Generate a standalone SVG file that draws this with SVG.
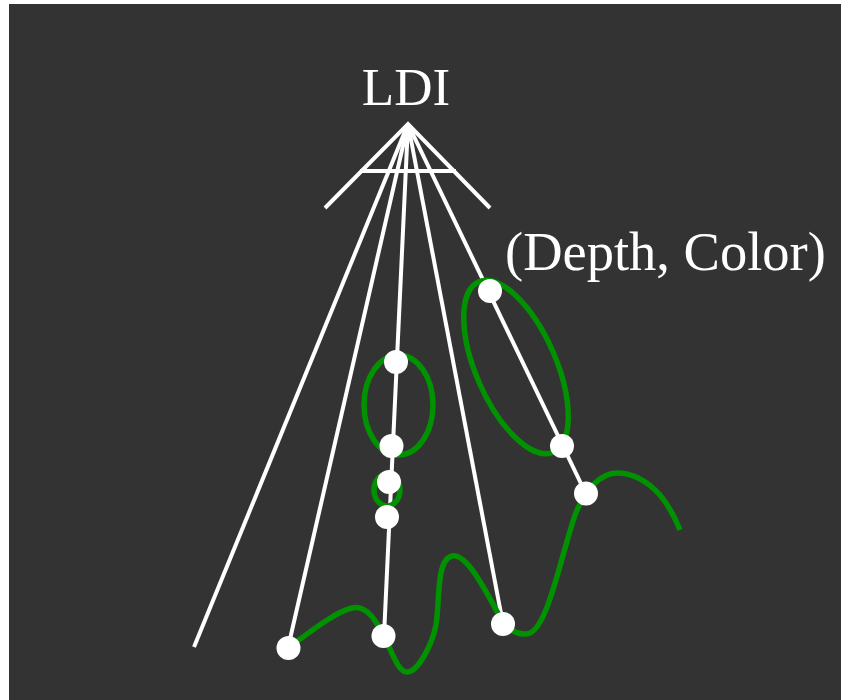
<svg xmlns="http://www.w3.org/2000/svg" width="841" height="700" viewBox="0 0 841 700">
<style>
.ray{stroke:#ffffff;stroke-width:4;fill:none;stroke-linecap:butt}
.green{stroke:#009200;stroke-width:5.5;fill:none}
.dot{fill:#ffffff}
.lbl{fill:#ffffff;font-family:"Liberation Serif","Times New Roman",serif;font-size:53px}
</style>
<rect x="0" y="0" width="841" height="700" fill="#ffffff"/>
<rect x="9" y="4" width="832" height="696" fill="#333333"/>
<g id="camera">
<path class="ray" d="M325,208 L408,124 L490,208"/>
<line class="ray" x1="360" y1="171" x2="456" y2="171"/>
</g>
<g id="connectors">
<line class="ray" x1="408" y1="124" x2="194" y2="647"/>
<line class="ray" x1="408" y1="124" x2="288" y2="648"/>
<line class="ray" x1="408" y1="124" x2="384" y2="636"/>
<line class="ray" x1="408" y1="124" x2="503" y2="624"/>
<line class="ray" x1="408" y1="124" x2="586" y2="494"/>
</g>
<g id="surfaces">
<ellipse class="green" cx="398.5" cy="405" rx="34.5" ry="50"/>
<ellipse class="green" cx="387" cy="490" rx="13" ry="16"/>
<ellipse class="green" cx="0" cy="0" rx="40" ry="93" transform="translate(516,367) rotate(-23.6)"/>
<path class="green" d="M288,648 C310,632 335,612 352,608 C368,604 378,625 384,636 C392,652 398,672 407,672 C418,672 432,645 436,625 C440,600 436,560 452,556 C468,552 490,600 503,622 C510,632 522,636 530,633 C548,625 560,560 575,515 C585,490 600,473 617,473 C635,473 650,484 660,495 C670,507 676,520 680,530"/>
</g>
<g id="samples">
<circle class="dot" cx="396" cy="362" r="12"/>
<circle class="dot" cx="391.5" cy="446" r="12"/>
<circle class="dot" cx="389" cy="482" r="12"/>
<circle class="dot" cx="387" cy="517" r="12"/>
<circle class="dot" cx="288.5" cy="648" r="12"/>
<circle class="dot" cx="383.5" cy="636" r="12"/>
<circle class="dot" cx="503" cy="624" r="12"/>
<circle class="dot" cx="586" cy="493.5" r="12"/>
<circle class="dot" cx="562" cy="446" r="12"/>
<circle class="dot" cx="490" cy="291" r="12"/>
</g>
<g id="labels">
<text class="lbl" x="406" y="105" text-anchor="middle">LDI</text>
<text class="lbl" x="505" y="270" style="font-size:54.5px">(Depth, Color)</text>
</g>
</svg>
